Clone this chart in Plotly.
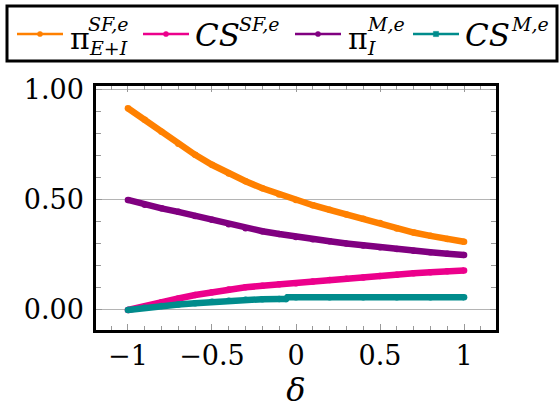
import plotly.graph_objects as go

delta = [-1.0, -0.9, -0.8, -0.7, -0.6, -0.5, -0.4, -0.3, -0.2, -0.1, 0.0,
         0.1, 0.2, 0.3, 0.4, 0.5, 0.6, 0.7, 0.8, 0.9, 1.0]
pi_sf = [0.917, 0.865, 0.81, 0.755, 0.705, 0.66, 0.62, 0.585, 0.553, 0.525, 0.5,
         0.476, 0.455, 0.434, 0.415, 0.395, 0.37, 0.352, 0.337, 0.323, 0.31]
cs_sf = [0.0, 0.015, 0.035, 0.052, 0.068, 0.081, 0.093, 0.103, 0.11, 0.117, 0.122,
         0.13, 0.136, 0.142, 0.148, 0.154, 0.16, 0.167, 0.172, 0.176, 0.179]
pi_m = [0.5, 0.478, 0.462, 0.446, 0.427, 0.41, 0.39, 0.372, 0.358, 0.345, 0.332,
        0.322, 0.312, 0.302, 0.293, 0.285, 0.277, 0.269, 0.262, 0.256, 0.25]
delta_cs_m = [-1.0, -0.9, -0.8, -0.7, -0.6, -0.5, -0.4, -0.3, -0.2, -0.1, -0.06, -0.05,
              0.0, 0.2, 0.4, 0.6, 0.8, 1.0]
cs_m = [0.0, 0.01, 0.018, 0.025, 0.031, 0.037, 0.042, 0.047, 0.049, 0.05, 0.05, 0.058,
        0.058, 0.058, 0.058, 0.058, 0.058, 0.058]

# legend labels: (base, superscript, subscript)
labels = [("π", "SF,e", "E+I"), ("<i>CS</i>", "SF,e", ""),
          ("π", "M,e", "I"), ("<i>CS</i>", "M,e", "")]
colors = ["#ff8000", "#ec008c", "#800080", "#008c8c"]
symbols = ["circle", "circle", "circle", "square"]
series = [(delta, pi_sf), (delta, cs_sf), (delta, pi_m), (delta_cs_m, cs_m)]

W, H = 560, 420
L, R, T, B = 96, 64, 86, 90
PW, PH = W - L - R, H - T - B


def px(x):
    return (x - L) / PW


def py(y):
    return (H - B - y) / PH


fig = go.Figure()
for (xs, ys), c in zip(series, colors):
    fig.add_trace(go.Scatter(x=xs, y=ys, mode="lines+markers", showlegend=False,
                             line=dict(color=c, width=6.5),
                             marker=dict(color=c, size=6.5, symbol="circle")))

font_family = "DejaVu Serif"
shapes = []
annotations = []
# legend frame
shapes.append(dict(type="rect", xref="paper", yref="paper",
                   x0=px(7), x1=px(557), y0=py(61), y1=py(6),
                   line=dict(color="black", width=3), fillcolor="white", layer="above"))
# legend entries: line start x, base text x, sup x, sub x
entries = [(17, 69, 87, 88), (143, 194, 238, 0), (295, 347, 366, 366), (413, 464, 510, 0)]
ly = 34
for (lx, bx, sx, subx), (base, sup, sub), c, s in zip(entries, labels, colors, symbols):
    shapes.append(dict(type="line", xref="paper", yref="paper",
                       x0=px(lx), x1=px(lx + 46), y0=py(ly), y1=py(ly),
                       line=dict(color=c, width=2.5), layer="above"))
    mx = lx + 23
    r = 2.6
    shapes.append(dict(type="circle" if s == "circle" else "rect", xref="paper", yref="paper",
                       x0=px(mx - r), x1=px(mx + r), y0=py(ly + r), y1=py(ly - r),
                       line=dict(color=c, width=0.5), fillcolor=c, layer="above"))
    is_pi = base == "π"
    annotations.append(dict(text=base, xref="paper", yref="paper", x=px(bx),
                            y=py(39 if is_pi else 35), xanchor="left", yanchor="middle",
                            showarrow=False, borderpad=0,
                            font=dict(family=font_family, size=30 if is_pi else 31)))
    annotations.append(dict(text="<i>" + sup + "</i>", xref="paper", yref="paper", x=px(sx),
                            y=py(24), xanchor="left", yanchor="middle",
                            showarrow=False, borderpad=0,
                            font=dict(family=font_family, size=19)))
    if sub:
        annotations.append(dict(text="<i>" + sub + "</i>", xref="paper", yref="paper",
                                x=px(subx), y=py(48), xanchor="left", yanchor="middle",
                                showarrow=False, borderpad=0,
                                font=dict(family=font_family, size=19)))

fig.update_layout(
    width=W, height=H,
    margin=dict(l=L, r=R, t=T, b=B),
    paper_bgcolor="white", plot_bgcolor="white",
    font=dict(family=font_family, size=27, color="black"),
    showlegend=False,
    shapes=shapes,
    annotations=annotations,
    xaxis=dict(range=[-1.19, 1.19], dtick=0.5, tick0=0, ticks="inside", ticklen=6,
               tickcolor="#999999", showgrid=False, zeroline=False,
               showline=True, linecolor="black", linewidth=2.5, mirror="allticks",
               minor=dict(dtick=0.1, tick0=0, ticks="inside", ticklen=4,
                          tickcolor="#999999", showgrid=False),
               title=dict(text="<i>δ</i>", font=dict(size=32), standoff=0)),
    yaxis=dict(range=[-0.091, 1.018], dtick=0.5, tick0=0, tickformat=".2f",
               ticks="inside", ticklen=6, tickcolor="#999999", ticklabelstandoff=4,
               showgrid=True, gridcolor="#b4b4b4", gridwidth=1, zeroline=False,
               showline=True, linecolor="black", linewidth=2.5, mirror="allticks",
               minor=dict(dtick=0.1, tick0=0, ticks="inside", ticklen=5,
                          tickcolor="#999999", showgrid=False)),
)

fig.write_html("out.html")
